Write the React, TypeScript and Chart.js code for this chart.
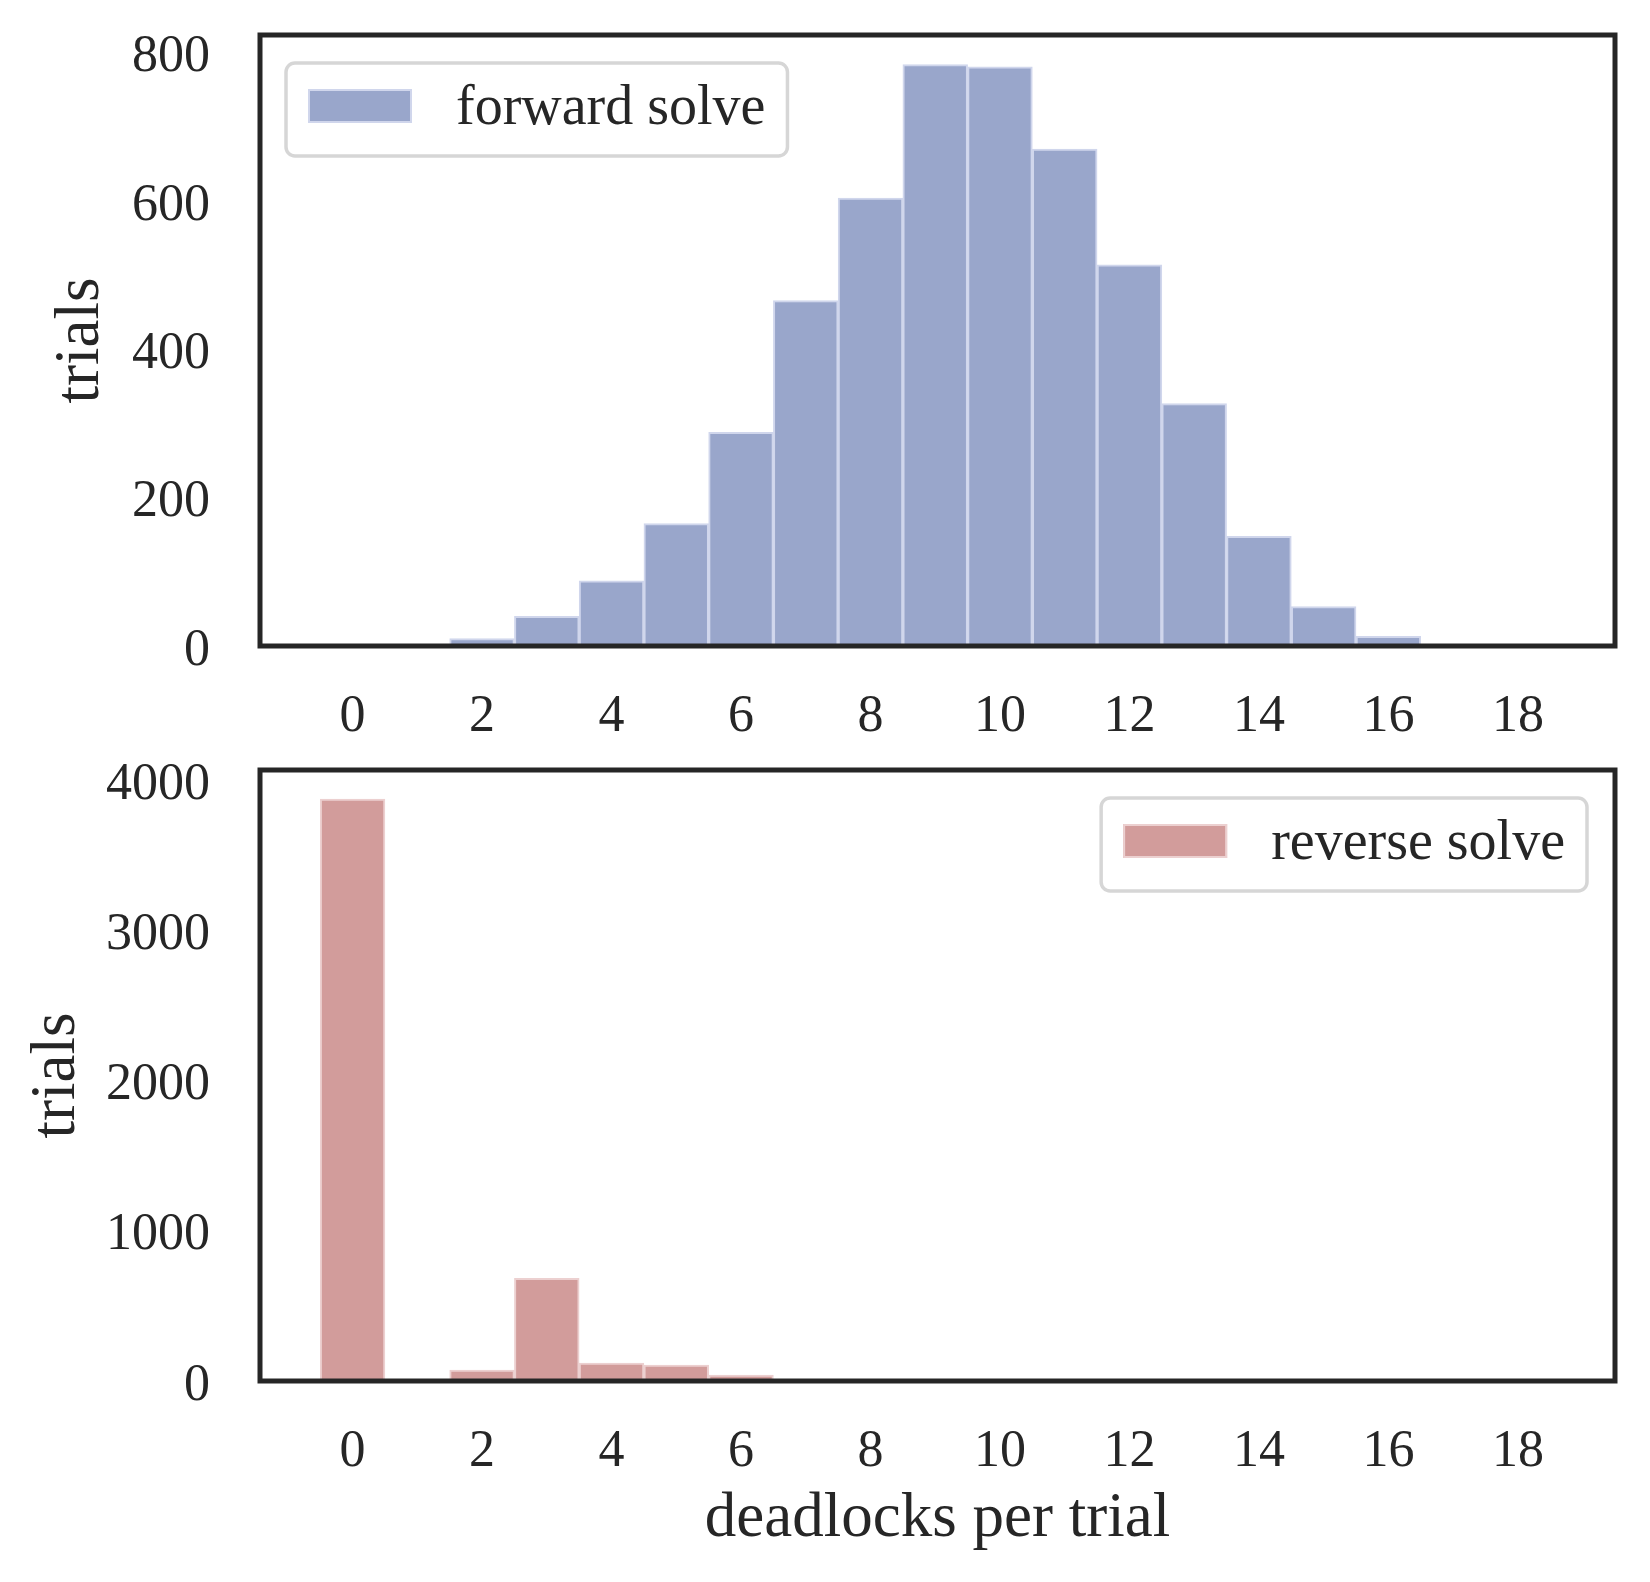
import { useEffect, useRef } from "react";
import {
  Chart,
  registerables,
  type ChartConfiguration,
  type Plugin,
} from "chart.js";

Chart.register(...registerables);

// deadlocks per trial (bin centres) and trial counts
const deadlocks = [0, 1, 2, 3, 4, 5, 6, 7, 8, 9, 10, 11, 12, 13, 14, 15, 16, 17, 18];
const forwardTrials = [0, 0, 10, 40, 88, 165, 288, 466, 604, 784, 781, 670, 514, 327, 148, 53, 13, 0, 0];
const reverseTrials = [3875, 0, 72, 683, 119, 106, 39, 0, 0, 0, 0, 0, 0, 0, 0, 0, 0, 0, 0];

const xTicks = [0, 2, 4, 6, 8, 10, 12, 14, 16, 18];
const forwardYTicks = [0, 200, 400, 600, 800];
const reverseYTicks = [0, 1000, 2000, 3000, 4000];

const FONT = "'Liberation Serif', 'Times New Roman', serif";
const INK = "#262626";
const TICK_SIZE = 52;
const TITLE_SIZE = 63;
const LEGEND_SIZE = 56;

const frame: Plugin<"bar"> = {
  id: "frame",
  afterDatasetsDraw(chart) {
    const { ctx, chartArea: a } = chart;
    ctx.save();
    ctx.strokeStyle = INK;
    ctx.lineWidth = 5;
    ctx.strokeRect(a.left, a.top, a.right - a.left, a.bottom - a.top);
    ctx.restore();
  },
};

// matplotlib-like framed legend sitting inside the axes
function boxLegend(corner: "left" | "right"): Plugin<"bar"> {
  return {
    id: "boxLegend",
    afterDraw(chart) {
      const { ctx, chartArea } = chart;
      const ds = chart.data.datasets[0];
      const label = ds.label ?? "";
      ctx.save();
      ctx.font = `${LEGEND_SIZE}px ${FONT}`;
      const w = 170 + ctx.measureText(label).width + 22;
      const h = 93;
      const x = corner === "left" ? chartArea.left + 26 : chartArea.right - 28 - w;
      const y = chartArea.top + 28;
      ctx.beginPath();
      ctx.roundRect(x, y, w, h, 9);
      ctx.fillStyle = "rgba(255,255,255,0.8)";
      ctx.fill();
      ctx.lineWidth = 3.5;
      ctx.strokeStyle = "#d6d6d6";
      ctx.stroke();
      ctx.fillStyle = ds.backgroundColor as string;
      ctx.fillRect(x + 22, y + 26, 104, 34);
      ctx.lineWidth = 2;
      ctx.strokeStyle = ds.borderColor as string;
      ctx.strokeRect(x + 23, y + 27, 102, 32);
      ctx.fillStyle = INK;
      ctx.textBaseline = "middle";
      ctx.fillText(label, x + 170, y + h / 2);
      ctx.restore();
    },
  };
}

function histConfig(opts: {
  label: string;
  values: number[];
  fill: string;
  edge: string;
  yTicks: number[];
  yMax: number;
  padTop: number;
  xAxisHeight: number;
  yTitlePad: number;
  xTitle?: string;
  corner: "left" | "right";
}): ChartConfiguration<"bar"> {
  return {
    type: "bar",
    data: {
      datasets: [
        {
          label: opts.label,
          data: deadlocks.map((d, i) => ({ x: d, y: opts.values[i] })),
          backgroundColor: opts.fill,
          borderColor: opts.edge,
          borderWidth: 2,
          barPercentage: 1,
          categoryPercentage: 1,
        },
      ],
    },
    options: {
      responsive: false,
      animation: false,
      layout: { padding: { top: opts.padTop, right: 35, left: 0, bottom: 0 } },
      plugins: { legend: { display: false }, tooltip: { enabled: false } },
      scales: {
        x: {
          type: "linear",
          offset: false,
          min: -1.43,
          max: 19.5,
          grid: { display: false, drawTicks: false },
          border: { display: false },
          afterBuildTicks: (s) => {
            s.ticks = xTicks.map((v) => ({ value: v }));
          },
          afterFit: (s) => {
            s.height = opts.xAxisHeight;
            s.paddingLeft = 0;
            s.paddingRight = 0;
          },
          ticks: {
            padding: 40,
            color: INK,
            font: { family: FONT, size: TICK_SIZE },
            maxRotation: 0,
            autoSkip: false,
          },
          title: {
            display: !!opts.xTitle,
            text: opts.xTitle ?? "",
            color: INK,
            font: { family: FONT, size: TITLE_SIZE },
            padding: { top: 0, bottom: 25 },
          },
        },
        y: {
          min: 0,
          max: opts.yMax,
          grid: { display: false, drawTicks: false },
          border: { display: false },
          afterBuildTicks: (s) => {
            s.ticks = opts.yTicks.map((v) => ({ value: v }));
          },
          afterFit: (s) => {
            s.width = 260;
            s.paddingTop = 0;
            s.paddingBottom = 0;
          },
          ticks: {
            padding: 50,
            labelOffset: 5,
            color: INK,
            font: { family: FONT, size: TICK_SIZE },
            callback: (v) => String(v),
          },
          title: {
            display: true,
            text: "trials",
            color: INK,
            font: { family: FONT, size: TITLE_SIZE },
            padding: { top: opts.yTitlePad, bottom: 0 },
          },
        },
      },
    },
    plugins: [frame, boxLegend(opts.corner)],
  };
}

function ChartCanvas({
  config,
  width,
  height,
}: {
  config: ChartConfiguration<"bar">;
  width: number;
  height: number;
}) {
  const canvasRef = useRef<HTMLCanvasElement>(null);
  useEffect(() => {
    const canvas = canvasRef.current;
    if (!canvas) return;
    const chart = new Chart(canvas, config);
    return () => chart.destroy();
  }, [config]);
  return (
    <canvas
      ref={canvasRef}
      width={width}
      height={height}
      style={{ display: "block", width, height }}
    />
  );
}

const forwardConfig = histConfig({
  label: "forward solve",
  values: forwardTrials,
  fill: "rgb(153,166,203)",
  edge: "rgb(208,214,236)",
  yTicks: forwardYTicks,
  yMax: 824,
  padTop: 35,
  xAxisHeight: 114,
  yTitlePad: 44,
  corner: "left",
});

const reverseConfig = histConfig({
  label: "reverse solve",
  values: reverseTrials,
  fill: "rgb(210,156,155)",
  edge: "rgb(236,208,208)",
  yTicks: reverseYTicks,
  yMax: 4069,
  padTop: 10,
  xAxisHeight: 201,
  yTitlePad: 20,
  xTitle: "deadlocks per trial",
  corner: "right",
});

export default function App() {
  useEffect(() => {
    document.body.style.margin = "0";
  }, []);
  return (
    <div style={{ width: 1650, height: 1582, background: "#fff" }}>
      <ChartCanvas config={forwardConfig} width={1650} height={760} />
      <ChartCanvas config={reverseConfig} width={1650} height={822} />
    </div>
  );
}
